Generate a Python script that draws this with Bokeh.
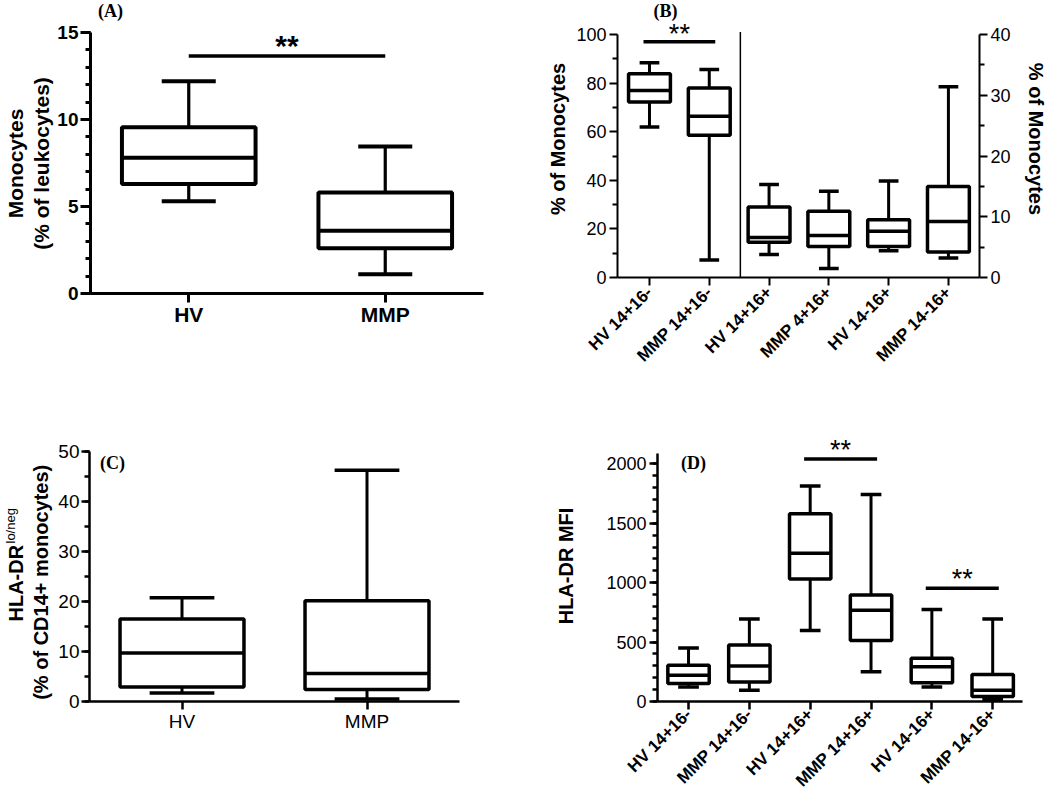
import math
from bokeh.plotting import figure
from bokeh.layouts import column, row
from bokeh.models import ColumnDataSource, FixedTicker, Range1d, LinearAxis, Label
from bokeh.core.properties import value
from bokeh.embed import file_html
from bokeh.resources import INLINE

SANS = "Liberation Sans"
SERIF = "Liberation Serif"

# ---------------- data ----------------
# Panel A: monocytes (% of leukocytes)
A_groups = ["HV", "MMP"]
A_low = [5.3, 1.1]
A_q1 = [6.3, 2.6]
A_med = [7.8, 3.6]
A_q3 = [9.55, 5.8]
A_high = [12.2, 8.45]
A_yticks = [0, 5, 10, 15]
A_sig_y = 13.65

# Panel B: subsets (% of monocytes); first two on left axis (0-100), rest on right axis (0-40)
B_groups = ["HV 14+16-", "MMP 14+16-", "HV 14+16+", "MMP 4+16+", "HV 14-16+", "MMP 14-16+"]
B_side = ["left", "left", "right", "right", "right", "right"]
B_low = [61.9, 7.2, 3.8, 1.5, 4.4, 3.2]
B_q1 = [72.2, 58.5, 5.8, 5.1, 5.1, 4.2]
B_med = [77.0, 66.4, 6.6, 6.9, 7.6, 9.2]
B_q3 = [83.9, 78.0, 11.6, 10.9, 9.5, 15.0]
B_high = [88.4, 85.6, 15.3, 14.2, 15.9, 31.4]
B_left_ticks = [0, 20, 40, 60, 80, 100]
B_right_ticks = [0, 10, 20, 30, 40]
B_sig_y = 97

# Panel C: HLA-DR lo/neg (% of CD14+ monocytes)
C_groups = ["HV", "MMP"]
C_low = [1.7, 0.5]
C_q1 = [2.9, 2.4]
C_med = [9.7, 5.6]
C_q3 = [16.5, 20.2]
C_high = [20.8, 46.3]
C_yticks = [0, 10, 20, 30, 40, 50]

# Panel D: HLA-DR MFI
D_groups = ["HV 14+16-", "MMP 14+16-", "HV 14+16+", "MMP 14+16+", "HV 14-16+", "MMP 14-16+"]
D_low = [122, 94, 598, 251, 122, 14]
D_q1 = [151, 165, 1031, 513, 157, 43]
D_med = [220, 299, 1248, 769, 293, 95]
D_q3 = [305, 476, 1581, 897, 365, 228]
D_high = [450, 695, 1815, 1744, 775, 695]
D_yticks = [0, 500, 1000, 1500, 2000]
D_sig = [(2, 3, 2043), (4, 5, 954)]  # (group index a, group index b, bar height)


# ---------------- helpers ----------------
def new_fig(w, h, xr, yr, ml, mr, mt, mb, axes=True):
    kw = {}
    if not axes:
        kw = dict(x_axis_location=None, y_axis_location=None)
    p = figure(width=w, height=h, x_range=Range1d(*xr), y_range=Range1d(*yr),
               output_backend="svg", toolbar_location=None,
               min_border_left=ml, min_border_right=mr, min_border_top=mt, min_border_bottom=mb, **kw)
    p.xgrid.visible = False
    p.ygrid.visible = False
    p.outline_line_color = None
    p.background_fill_color = "white"
    p.border_fill_color = "white"
    return p


def style_axis(ax, size, bold, lw, major_out=8, minor_out=4, standoff=3):
    ax.axis_line_width = lw
    ax.axis_line_color = "black"
    ax.major_tick_line_width = lw
    ax.minor_tick_line_width = lw
    ax.major_tick_line_color = "black"
    ax.minor_tick_line_color = "black"
    ax.major_tick_out = major_out
    ax.major_tick_in = 0
    ax.minor_tick_out = minor_out
    ax.minor_tick_in = 0
    ax.major_label_text_font = SANS
    ax.major_label_text_font_size = size
    ax.major_label_text_font_style = "bold" if bold else "normal"
    ax.major_label_text_color = "black"
    ax.major_label_standoff = standoff
    ax.axis_label_text_font = SANS
    ax.axis_label_text_font_style = "bold"
    ax.axis_label_text_color = "black"


def boxes(p, xs, low, q1, med, q3, high, bw, cw, lw, wlw, rname="default"):
    src = ColumnDataSource(dict(
        x=xs, low=low, q1=q1, med=med, q3=q3, high=high,
        x0=[x - bw / 2 for x in xs], x1=[x + bw / 2 for x in xs],
        c0=[x - cw / 2 for x in xs], c1=[x + cw / 2 for x in xs]))
    kw = dict(source=src, y_range_name=rname, line_color="black")
    p.segment(x0="x", y0="q3", x1="x", y1="high", line_width=wlw, **kw)
    p.segment(x0="x", y0="low", x1="x", y1="q1", line_width=wlw, **kw)
    p.segment(x0="c0", y0="high", x1="c1", y1="high", line_width=lw, **kw)
    p.segment(x0="c0", y0="low", x1="c1", y1="low", line_width=lw, **kw)
    p.vbar(x="x", width=bw, bottom="q1", top="q3", fill_color="white", line_width=lw, **kw)
    p.segment(x0="x0", y0="med", x1="x1", y1="med", line_width=lw, **kw)


def sig(p, xa, xb, y, lw, size, bold, over=0.0, lift=8):
    p.segment(x0=[xa - over], y0=[y], x1=[xb + over], y1=[y], line_width=lw, line_color="black")
    p.text(x=[(xa + xb) / 2], y=[y], text=["**"], text_font=value(SANS),
           text_font_size=size, text_font_style="bold" if bold else "normal",
           text_align="center", text_baseline="alphabetic", y_offset=-lift, text_color="black")


def lab(p, txt, x, y, size, style="bold", font=SANS, angle=0.0, align="center", baseline="middle"):
    p.add_layout(Label(x=x, y=y, x_units="screen", y_units="screen", text=txt, angle=angle,
                       text_font=font, text_font_style=style, text_font_size=size,
                       text_align=align, text_baseline=baseline, text_color="black"))


# ---------------- panel A ----------------
A_x = [2 * i + 1 for i in range(len(A_groups))]
pAL = new_fig(54, 406, (0, 1), (0, 1), 0, 0, 0, 113, axes=False)
lab(pAL, "Monocytes", 15, 130, "21px", angle=math.pi / 2)
lab(pAL, "(% of leukocytes)", 41, 130, "21px", angle=math.pi / 2)

pA = new_fig(466, 406, (0, 4), (0, 16.84), 36, 37, 0, 113)
boxes(pA, A_x, A_low, A_q1, A_med, A_q3, A_high, 1.36, 0.55, 4, 3.2)
sig(pA, A_x[0], A_x[1], A_sig_y, 3.5, "30px", True, 0.0, 11)
pA.yaxis.ticker = FixedTicker(ticks=A_yticks, minor_ticks=list(range(0, 16)))
pA.yaxis.bounds = (0, 15)
pA.xaxis.ticker = FixedTicker(ticks=A_x)
pA.xaxis.major_label_overrides = {x: g for x, g in zip(A_x, A_groups)}
style_axis(pA.yaxis[0], "19px", True, 3, 10, 5, 2)
style_axis(pA.xaxis[0], "21px", True, 3, 9, 0, 0)
lab(pA, "(A)", 20, 293, "18px", font=SERIF, baseline="top")

# ---------------- panel B ----------------
B_x = [i + 1 for i in range(len(B_groups))]
pB = new_fig(530, 390, (0.465, 6.52), (0, 114.0), 97, 71, 0, 113)
pB.extra_y_ranges = {"right": Range1d(0, 45.6)}
for side, rname in (("left", "default"), ("right", "right")):
    idx = [i for i, s in enumerate(B_side) if s == side]
    boxes(pB, [B_x[i] for i in idx], [B_low[i] for i in idx], [B_q1[i] for i in idx],
          [B_med[i] for i in idx], [B_q3[i] for i in idx], [B_high[i] for i in idx],
          0.7, 0.33, 3.5, 3, rname)
sep_x = (B_x[1] + B_x[2]) / 2 + 0.02
pB.segment(x0=[sep_x], y0=[0], x1=[sep_x], y1=[101], line_width=1.5, line_color="black")
sig(pB, B_x[0], B_x[1], B_sig_y, 3.5, "27px", False, 0.1, 8)
pB.yaxis.ticker = FixedTicker(ticks=B_left_ticks, minor_ticks=[10, 30, 50, 70, 90])
pB.yaxis.bounds = (0, 100)
style_axis(pB.yaxis[0], "18px", False, 2, 8, 5, 3)
pB.yaxis.axis_label = "% of Monocytes"
pB.yaxis.axis_label_text_font_size = "20px"
pB.yaxis.axis_label_standoff = 4
rax = LinearAxis(y_range_name="right", ticker=FixedTicker(ticks=B_right_ticks, minor_ticks=[5, 15, 25, 35]),
                 bounds=(0, 40), axis_label="% of Monocytes")
style_axis(rax, "18px", False, 2, 8, 5, 3)
rax.axis_label_text_font_size = "20px"
rax.axis_label_standoff = 11
pB.add_layout(rax, "right")
pB.xaxis.ticker = FixedTicker(ticks=B_x)
pB.xaxis.major_label_overrides = {x: g for x, g in zip(B_x, B_groups)}
style_axis(pB.xaxis[0], "17px", True, 2, 8, 0, 4)
pB.xaxis.major_label_orientation = math.pi / 4
lab(pB, "(B)", 48, 277, "18px", font=SERIF, baseline="top")

# ---------------- panel C ----------------
C_x = [2 * i + 1 for i in range(len(C_groups))]
pCL = new_fig(54, 394, (0, 1), (0, 1), 0, 0, 24, 97, axes=False)
lab(pCL, "HLA-DR", 15, 80, "20px", angle=math.pi / 2, align="left")
lab(pCL, "lo/neg", 10, 158, "13px", style="normal", angle=math.pi / 2, align="left")
lab(pCL, "(% of CD14+  monocytes)", 40, 122, "20px", angle=math.pi / 2)

pC = new_fig(466, 394, (0, 4), (0, 54.27), 35, 61, 24, 97)
boxes(pC, C_x, C_low, C_q1, C_med, C_q3, C_high, 1.34, 0.7, 3.5, 3)
pC.yaxis.ticker = FixedTicker(ticks=C_yticks, minor_ticks=list(range(0, 51, 5)))
pC.yaxis.bounds = (0, 50)
pC.xaxis.ticker = FixedTicker(ticks=C_x)
pC.xaxis.major_label_overrides = {x: g for x, g in zip(C_x, C_groups)}
style_axis(pC.yaxis[0], "19px", False, 2.5, 8, 5, 2)
style_axis(pC.xaxis[0], "19px", False, 2.5, 8, 0, 1)
lab(pC, "(C)", 23, 239, "18px", font=SERIF)

# ---------------- panel D ----------------
D_x = [i + 1 for i in range(len(D_groups))]
pD = new_fig(530, 394, (0.49, 6.49), (0, 2282), 137, 28, 24, 97)
boxes(pD, D_x, D_low, D_q1, D_med, D_q3, D_high, 0.68, 0.34, 3.5, 3)
for a, b, y in D_sig:
    sig(pD, D_x[a], D_x[b], y, 3.5, "27px", False, 0.1, 9)
pD.yaxis.ticker = FixedTicker(ticks=D_yticks, minor_ticks=list(range(0, 2001, 100)))
pD.yaxis.bounds = (0, 2090)
style_axis(pD.yaxis[0], "18px", False, 2.5, 8, 5, 3)
pD.yaxis.axis_label = "HLA-DR MFI"
pD.yaxis.axis_label_text_font_size = "20px"
pD.yaxis.axis_label_standoff = 26
pD.xaxis.ticker = FixedTicker(ticks=D_x)
pD.xaxis.major_label_overrides = {x: g for x, g in zip(D_x, D_groups)}
style_axis(pD.xaxis[0], "17px", True, 2.5, 8, 0, 2)
pD.xaxis.major_label_orientation = math.pi / 4
lab(pD, "(D)", 36, 239, "18px", font=SERIF)

layout = column(row(pAL, pA, pB), row(pCL, pC, pD))
open("out.html", "w").write(file_html(layout, INLINE))
